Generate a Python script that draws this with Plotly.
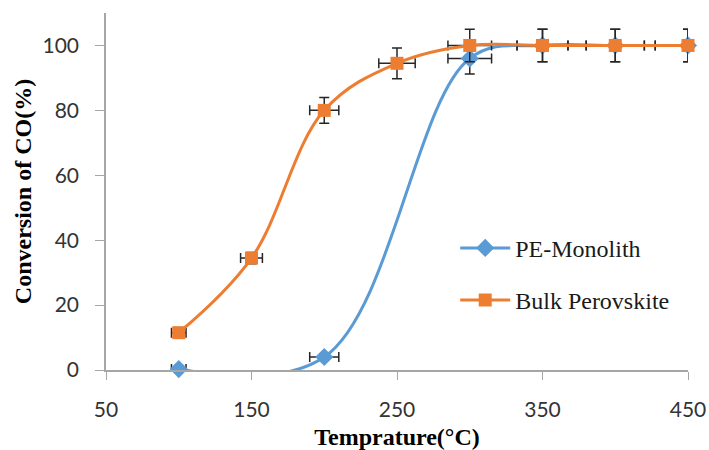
import plotly.graph_objects as go

temps_pe = [100, 200, 300, 350, 400, 450]
conv_pe = [0.3, 4.0, 96.0, 100.0, 100.0, 100.0]
temps_bulk = [100, 150, 200, 250, 300, 350, 400, 450]
conv_bulk = [11.5, 34.5, 80.0, 94.5, 100.0, 100.0, 100.0, 100.0]
err_pct = 5
x_ticks = [50, 150, 250, 350, 450]
y_ticks = [0, 20, 40, 60, 80, 100]

blue = "#5B9BD5"
orange = "#ED7D31"
errc = "#262626"

def trace(x, y, name, color, symbol, size, group):
    return go.Scatter(
        x=x, y=y, name=name, mode="lines+markers",
        line=dict(color=color, width=3, shape="spline", smoothing=1.05),
        marker=dict(color=color, symbol=symbol, size=size),
        error_x=dict(type="percent", value=err_pct, color=errc, thickness=1.5, width=5),
        error_y=dict(type="percent", value=err_pct, color=errc, thickness=1.5, width=5),
        cliponaxis=False, legendgroup=group,
    )

fig = go.Figure()
fig.add_trace(trace(temps_pe, conv_pe, "PE-Monolith", blue, "diamond", 14, "a"))
fig.add_trace(trace(temps_bulk, conv_bulk, "Bulk Perovskite", orange, "square", 13, "b"))

fig.update_layout(
    width=709, height=450,
    margin=dict(l=106, r=21, t=13, b=80, autoexpand=False),
    paper_bgcolor="white", plot_bgcolor="white",
    showlegend=True,
    legend=dict(
        x=0.6, y=0.268, xanchor="left", yanchor="middle",
        font=dict(family="Liberation Serif", size=24, color="#1a1a1a"),
        traceorder="grouped", tracegroupgap=18, bgcolor="rgba(0,0,0,0)",
        itemwidth=50,
    ),
    xaxis=dict(
        range=[50, 450], tickvals=x_ticks, ticks="outside", ticklen=8,
        tickcolor="#A6A6A6", showline=True, linecolor="#A6A6A6", linewidth=1.5,
        showgrid=False, zeroline=False, ticklabelstandoff=12, automargin=False,
        tickfont=dict(family="Lato", size=21, color="#333333"),
        title=dict(text="<b>Temprature(°C)</b>", standoff=8,
                   font=dict(family="Liberation Serif", size=24, color="#000000")),
    ),
    yaxis=dict(
        range=[0, 110], tickvals=y_ticks, ticks="outside", ticklen=9,
        tickcolor="#A6A6A6", showline=True, linecolor="#A6A6A6", linewidth=1.5,
        showgrid=False, zeroline=False, ticklabelstandoff=12, automargin=False,
        tickfont=dict(family="Lato", size=21, color="#333333"),
        title=dict(text="<b>Conversion of CO(%)</b>", standoff=4,
                   font=dict(family="Liberation Serif", size=24, color="#000000")),
    ),
)

fig.write_html("out.html")
